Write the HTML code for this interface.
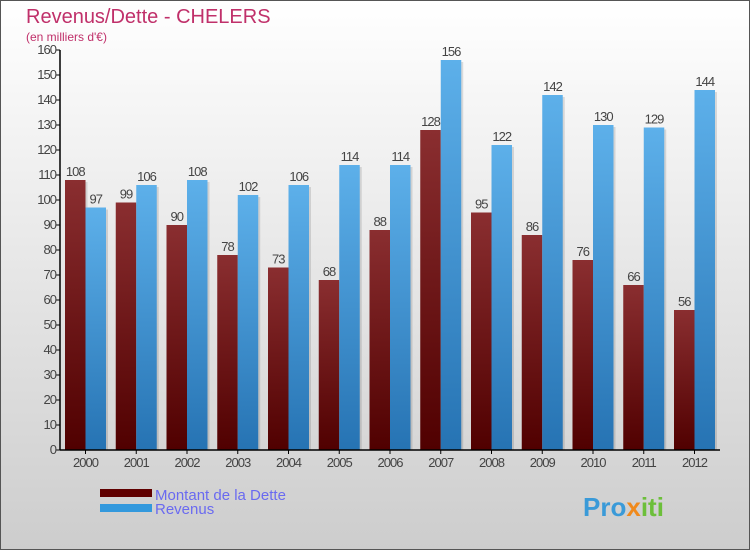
<!DOCTYPE html>
<html><head><meta charset="utf-8"><style>
html,body{margin:0;padding:0}
body{width:750px;height:550px;overflow:hidden;font-family:"Liberation Sans",sans-serif}
</style></head><body>
<svg id="c" width="750" height="550" xmlns="http://www.w3.org/2000/svg">
<defs>
<linearGradient id="bg" x1="0" y1="0" x2="0" y2="1"><stop offset="0" stop-color="#ffffff"/><stop offset="1" stop-color="#cdcdcd"/></linearGradient>
<linearGradient id="gd" x1="0" y1="0" x2="0" y2="1"><stop offset="0" stop-color="#8a2e30"/><stop offset="1" stop-color="#500000"/></linearGradient>
<linearGradient id="gr" x1="0" y1="0" x2="0" y2="1"><stop offset="0" stop-color="#5db0ea"/><stop offset="1" stop-color="#2673b3"/></linearGradient>
</defs>
<rect x="0.5" y="0.5" width="749" height="549" fill="url(#bg)" stroke="#555"/>
<text x="26" y="23" font-size="20" fill="#c0306a">Revenus/Dette - CHELERS</text>
<text x="26" y="41" font-size="12" fill="#c0306a">(en milliers d'€)</text>
<g id="plot"></g>
<g>
<rect x="100" y="489" width="52" height="8" fill="#600000"/>
<rect x="100" y="504" width="52" height="8" fill="#3399dd"/>
<text x="155" y="500" font-size="15" fill="#6a6af0">Montant de la Dette</text>
<text x="155" y="514" font-size="15" fill="#6a6af0">Revenus</text>
</g>
<text x="583" y="516" font-size="26" font-weight="bold" fill="#3a9ad8">Pro<tspan fill="#f08a1c">x</tspan><tspan fill="#6cbf3a">iti</tspan></text>
</svg>
<script>
const years=["2000","2001","2002","2003","2004","2005","2006","2007","2008","2009","2010","2011","2012"];
const dette=[108,99,90,78,73,68,88,128,95,86,76,66,56];
const revenus=[97,106,108,102,106,114,114,156,122,142,130,129,144];
const yTicks=[0,10,20,30,40,50,60,70,80,90,100,110,120,130,140,150,160];
const NS="http://www.w3.org/2000/svg";
const g=document.getElementById('plot');
const x0=60,y0=450,yTop=50,yMax=160,step=50.75,bw=20.5;
const y=v=>y0-(v/yMax)*(y0-yTop);
const cx=i=>85.5+i*step;
function mk(t,a){const e=document.createElementNS(NS,t);for(const k in a)e.setAttribute(k,a[k]);g.appendChild(e);return e;}
yTicks.forEach(t=>{
  const l=mk('line',{x1:x0-4,x2:x0,y1:y(t),y2:y(t),stroke:'#000'});
  
  
  const tx=mk('text',{x:x0-4,y:y(t)+4,'font-size':13,fill:'#444','text-anchor':'end','letter-spacing':'-1'});
  tx.textContent=t;
  
  
});
years.forEach((yr,i)=>{
  const c=cx(i);
  [[dette[i],c-bw,'url(#gd)','bar-dette'],[revenus[i],c,'url(#gr)','bar-revenus']].forEach(([v,x,f,n])=>{
    const s=mk('rect',{x:x+2,y:y(v)+2,width:bw,height:y0-y(v)-2,fill:'#000','fill-opacity':0.12});
    
    
    const r=mk('rect',{x:x,y:y(v),width:bw,height:y0-y(v),fill:f});
    
    
    const t=mk('text',{x:x+bw/2,y:y(v)-4,'font-size':13,fill:'#444','text-anchor':'middle','letter-spacing':'-1'});
    t.textContent=v;
    
    
  });
  const tk=mk('line',{x1:c,x2:c,y1:y0,y2:y0+4,stroke:'#000'});
  
  
  const tl=mk('text',{x:c,y:y0+17,'font-size':13,fill:'#444','text-anchor':'middle','letter-spacing':'-1'});
  tl.textContent=yr;
  
  
});
const ya=mk('line',{x1:x0,x2:x0,y1:yTop,y2:y0,stroke:'#000','stroke-width':1.5});


const xa=mk('line',{x1:x0,x2:720,y1:y0,y2:y0,stroke:'#000','stroke-width':1.5});


</script>
</body></html>
